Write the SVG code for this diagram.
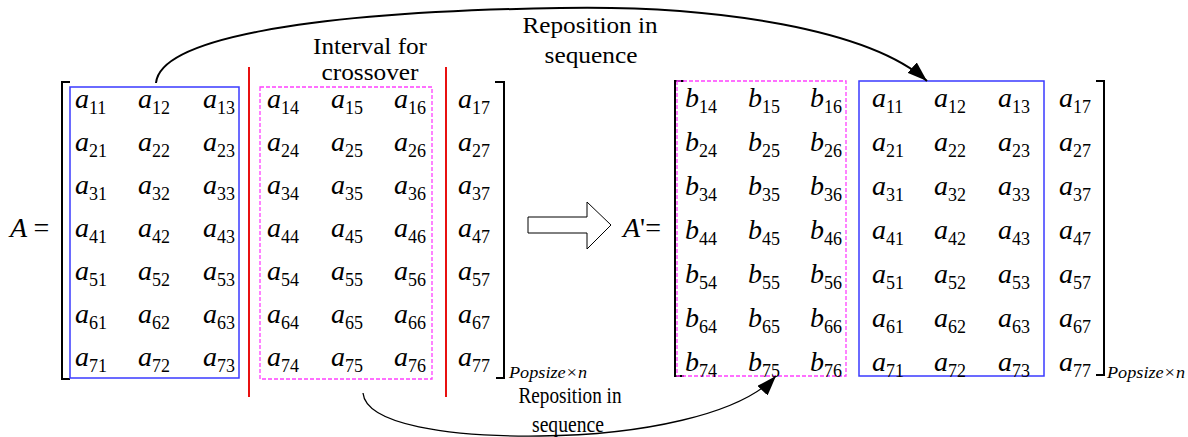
<svg xmlns="http://www.w3.org/2000/svg" width="1188" height="437" viewBox="0 0 1188 437" font-family="'Liberation Serif', 'DejaVu Serif', serif">
<style>
text{font-family:"Liberation Serif","DejaVu Serif",serif;fill:#000}
.m{font-size:28px;font-style:italic}
.s{font-size:18px;font-style:normal}
.lbl{font-size:24px}
.ps{font-size:17px;font-style:italic}
.br{fill:none;stroke:#000;stroke-width:2}
.blue{fill:none;stroke:#3a3aff;stroke-width:1.5}
.mag{fill:none;stroke:#ff40ff;stroke-width:1.3;stroke-dasharray:4 2}
.red{stroke:#e81010;stroke-width:2}
.con{fill:none;stroke:#000}
</style>
<defs>
<marker id="ah" markerUnits="userSpaceOnUse" markerWidth="22" markerHeight="14" refX="20" refY="7" orient="auto">
<path d="M0,0 L20,7 L0,14 z" fill="#000"/>
</marker>
</defs>
<rect width="1188" height="437" fill="#fff"/>

<g id="matrix-A">
<text x="10" y="237" class="m">A <tspan font-style="normal">=</tspan></text>
<path class="br" d="M70,82 H62 V379 H70"/>
<path class="br" d="M495,82 H504 V378 H496"/>
<rect id="blue-left" class="blue" x="70" y="87" width="169" height="291"/>
<rect id="mag-left" class="mag" x="260" y="87" width="172" height="292"/>
<line class="red" x1="249" y1="67" x2="249" y2="397"/>
<line class="red" x1="446" y1="67" x2="446" y2="397"/>
<g id="cells-A">
<text x="75" y="108" class="m">a<tspan class="s" dy="6">11</tspan></text>
<text x="138" y="108" class="m">a<tspan class="s" dy="6">12</tspan></text>
<text x="203" y="108" class="m">a<tspan class="s" dy="6">13</tspan></text>
<text x="267" y="108" class="m">a<tspan class="s" dy="6">14</tspan></text>
<text x="331" y="108" class="m">a<tspan class="s" dy="6">15</tspan></text>
<text x="394" y="108" class="m">a<tspan class="s" dy="6">16</tspan></text>
<text x="458" y="108" class="m">a<tspan class="s" dy="6">17</tspan></text>

<text x="75" y="151" class="m">a<tspan class="s" dy="6">21</tspan></text>
<text x="138" y="151" class="m">a<tspan class="s" dy="6">22</tspan></text>
<text x="203" y="151" class="m">a<tspan class="s" dy="6">23</tspan></text>
<text x="267" y="151" class="m">a<tspan class="s" dy="6">24</tspan></text>
<text x="331" y="151" class="m">a<tspan class="s" dy="6">25</tspan></text>
<text x="394" y="151" class="m">a<tspan class="s" dy="6">26</tspan></text>
<text x="458" y="151" class="m">a<tspan class="s" dy="6">27</tspan></text>

<text x="75" y="194" class="m">a<tspan class="s" dy="6">31</tspan></text>
<text x="138" y="194" class="m">a<tspan class="s" dy="6">32</tspan></text>
<text x="203" y="194" class="m">a<tspan class="s" dy="6">33</tspan></text>
<text x="267" y="194" class="m">a<tspan class="s" dy="6">34</tspan></text>
<text x="331" y="194" class="m">a<tspan class="s" dy="6">35</tspan></text>
<text x="394" y="194" class="m">a<tspan class="s" dy="6">36</tspan></text>
<text x="458" y="194" class="m">a<tspan class="s" dy="6">37</tspan></text>

<text x="75" y="237" class="m">a<tspan class="s" dy="6">41</tspan></text>
<text x="138" y="237" class="m">a<tspan class="s" dy="6">42</tspan></text>
<text x="203" y="237" class="m">a<tspan class="s" dy="6">43</tspan></text>
<text x="267" y="237" class="m">a<tspan class="s" dy="6">44</tspan></text>
<text x="331" y="237" class="m">a<tspan class="s" dy="6">45</tspan></text>
<text x="394" y="237" class="m">a<tspan class="s" dy="6">46</tspan></text>
<text x="458" y="237" class="m">a<tspan class="s" dy="6">47</tspan></text>

<text x="75" y="280" class="m">a<tspan class="s" dy="6">51</tspan></text>
<text x="138" y="280" class="m">a<tspan class="s" dy="6">52</tspan></text>
<text x="203" y="280" class="m">a<tspan class="s" dy="6">53</tspan></text>
<text x="267" y="280" class="m">a<tspan class="s" dy="6">54</tspan></text>
<text x="331" y="280" class="m">a<tspan class="s" dy="6">55</tspan></text>
<text x="394" y="280" class="m">a<tspan class="s" dy="6">56</tspan></text>
<text x="458" y="280" class="m">a<tspan class="s" dy="6">57</tspan></text>

<text x="75" y="323" class="m">a<tspan class="s" dy="6">61</tspan></text>
<text x="138" y="323" class="m">a<tspan class="s" dy="6">62</tspan></text>
<text x="203" y="323" class="m">a<tspan class="s" dy="6">63</tspan></text>
<text x="267" y="323" class="m">a<tspan class="s" dy="6">64</tspan></text>
<text x="331" y="323" class="m">a<tspan class="s" dy="6">65</tspan></text>
<text x="394" y="323" class="m">a<tspan class="s" dy="6">66</tspan></text>
<text x="458" y="323" class="m">a<tspan class="s" dy="6">67</tspan></text>

<text x="75" y="366" class="m">a<tspan class="s" dy="6">71</tspan></text>
<text x="138" y="366" class="m">a<tspan class="s" dy="6">72</tspan></text>
<text x="203" y="366" class="m">a<tspan class="s" dy="6">73</tspan></text>
<text x="267" y="366" class="m">a<tspan class="s" dy="6">74</tspan></text>
<text x="331" y="366" class="m">a<tspan class="s" dy="6">75</tspan></text>
<text x="394" y="366" class="m">a<tspan class="s" dy="6">76</tspan></text>
<text x="458" y="366" class="m">a<tspan class="s" dy="6">77</tspan></text>
</g>
<text x="509" y="378" class="ps" textLength="78" lengthAdjust="spacingAndGlyphs">Popsize×n</text>
</g>

<g id="transform-arrow">
<polygon points="528,217 587,217 587,202 611,225 587,249 587,233 528,233" fill="#fff" stroke="#000" stroke-width="1"/>
</g>

<g id="matrix-A-prime">
<text x="623" y="237" class="m">A<tspan font-style="normal">'=</tspan></text>
<path class="br" d="M684,81 H675 V376 H684"/>
<path class="br" d="M1096,81 H1104 V375 H1096"/>
<rect id="mag-right" class="mag" x="677" y="81" width="169" height="295"/>
<rect id="blue-right" class="blue" x="859" y="81" width="185" height="295"/>
<g id="cells-A-prime">
<text x="685" y="107" class="m">b<tspan class="s" dy="6">14</tspan></text>
<text x="748" y="107" class="m">b<tspan class="s" dy="6">15</tspan></text>
<text x="810" y="107" class="m">b<tspan class="s" dy="6">16</tspan></text>
<text x="872" y="107" class="m">a<tspan class="s" dy="6">11</tspan></text>
<text x="934" y="107" class="m">a<tspan class="s" dy="6">12</tspan></text>
<text x="998" y="107" class="m">a<tspan class="s" dy="6">13</tspan></text>
<text x="1059" y="107" class="m">a<tspan class="s" dy="6">17</tspan></text>

<text x="685" y="151" class="m">b<tspan class="s" dy="6">24</tspan></text>
<text x="748" y="151" class="m">b<tspan class="s" dy="6">25</tspan></text>
<text x="810" y="151" class="m">b<tspan class="s" dy="6">26</tspan></text>
<text x="872" y="151" class="m">a<tspan class="s" dy="6">21</tspan></text>
<text x="934" y="151" class="m">a<tspan class="s" dy="6">22</tspan></text>
<text x="998" y="151" class="m">a<tspan class="s" dy="6">23</tspan></text>
<text x="1059" y="151" class="m">a<tspan class="s" dy="6">27</tspan></text>

<text x="685" y="195" class="m">b<tspan class="s" dy="6">34</tspan></text>
<text x="748" y="195" class="m">b<tspan class="s" dy="6">35</tspan></text>
<text x="810" y="195" class="m">b<tspan class="s" dy="6">36</tspan></text>
<text x="872" y="195" class="m">a<tspan class="s" dy="6">31</tspan></text>
<text x="934" y="195" class="m">a<tspan class="s" dy="6">32</tspan></text>
<text x="998" y="195" class="m">a<tspan class="s" dy="6">33</tspan></text>
<text x="1059" y="195" class="m">a<tspan class="s" dy="6">37</tspan></text>

<text x="685" y="239" class="m">b<tspan class="s" dy="6">44</tspan></text>
<text x="748" y="239" class="m">b<tspan class="s" dy="6">45</tspan></text>
<text x="810" y="239" class="m">b<tspan class="s" dy="6">46</tspan></text>
<text x="872" y="239" class="m">a<tspan class="s" dy="6">41</tspan></text>
<text x="934" y="239" class="m">a<tspan class="s" dy="6">42</tspan></text>
<text x="998" y="239" class="m">a<tspan class="s" dy="6">43</tspan></text>
<text x="1059" y="239" class="m">a<tspan class="s" dy="6">47</tspan></text>

<text x="685" y="283" class="m">b<tspan class="s" dy="6">54</tspan></text>
<text x="748" y="283" class="m">b<tspan class="s" dy="6">55</tspan></text>
<text x="810" y="283" class="m">b<tspan class="s" dy="6">56</tspan></text>
<text x="872" y="283" class="m">a<tspan class="s" dy="6">51</tspan></text>
<text x="934" y="283" class="m">a<tspan class="s" dy="6">52</tspan></text>
<text x="998" y="283" class="m">a<tspan class="s" dy="6">53</tspan></text>
<text x="1059" y="283" class="m">a<tspan class="s" dy="6">57</tspan></text>

<text x="685" y="327" class="m">b<tspan class="s" dy="6">64</tspan></text>
<text x="748" y="327" class="m">b<tspan class="s" dy="6">65</tspan></text>
<text x="810" y="327" class="m">b<tspan class="s" dy="6">66</tspan></text>
<text x="872" y="327" class="m">a<tspan class="s" dy="6">61</tspan></text>
<text x="934" y="327" class="m">a<tspan class="s" dy="6">62</tspan></text>
<text x="998" y="327" class="m">a<tspan class="s" dy="6">63</tspan></text>
<text x="1059" y="327" class="m">a<tspan class="s" dy="6">67</tspan></text>

<text x="685" y="371" class="m">b<tspan class="s" dy="6">74</tspan></text>
<text x="748" y="371" class="m">b<tspan class="s" dy="6">75</tspan></text>
<text x="810" y="371" class="m">b<tspan class="s" dy="6">76</tspan></text>
<text x="872" y="371" class="m">a<tspan class="s" dy="6">71</tspan></text>
<text x="934" y="371" class="m">a<tspan class="s" dy="6">72</tspan></text>
<text x="998" y="371" class="m">a<tspan class="s" dy="6">73</tspan></text>
<text x="1059" y="371" class="m">a<tspan class="s" dy="6">77</tspan></text>
</g>
<text x="1107" y="378" class="ps" textLength="78" lengthAdjust="spacingAndGlyphs">Popsize×n</text>
</g>

<g id="labels">
<text x="370" y="54" class="lbl" text-anchor="middle" textLength="114" lengthAdjust="spacingAndGlyphs">Interval for</text>
<text x="370" y="80" class="lbl" text-anchor="middle" textLength="97" lengthAdjust="spacingAndGlyphs">crossover</text>
<text x="590" y="33" class="lbl" text-anchor="middle" textLength="135" lengthAdjust="spacingAndGlyphs">Reposition in</text>
<text x="591" y="63" class="lbl" text-anchor="middle" textLength="93" lengthAdjust="spacingAndGlyphs">sequence</text>
<text x="570" y="403" class="lbl" text-anchor="middle" textLength="103" lengthAdjust="spacingAndGlyphs">Reposition in</text>
<text x="568" y="432" class="lbl" text-anchor="middle" textLength="72" lengthAdjust="spacingAndGlyphs">sequence</text>
</g>

<g id="connectors">
<path class="con" stroke-width="2" d="M156,83 C160,40 300,12 560,8 C720,5 870,30 927,81" marker-end="url(#ah)"/>
<path class="con" stroke-width="1.3" d="M363,393 C366,425 450,437 540,436 C640,435 740,415 776,376" marker-end="url(#ah)"/>
</g>
</svg>
